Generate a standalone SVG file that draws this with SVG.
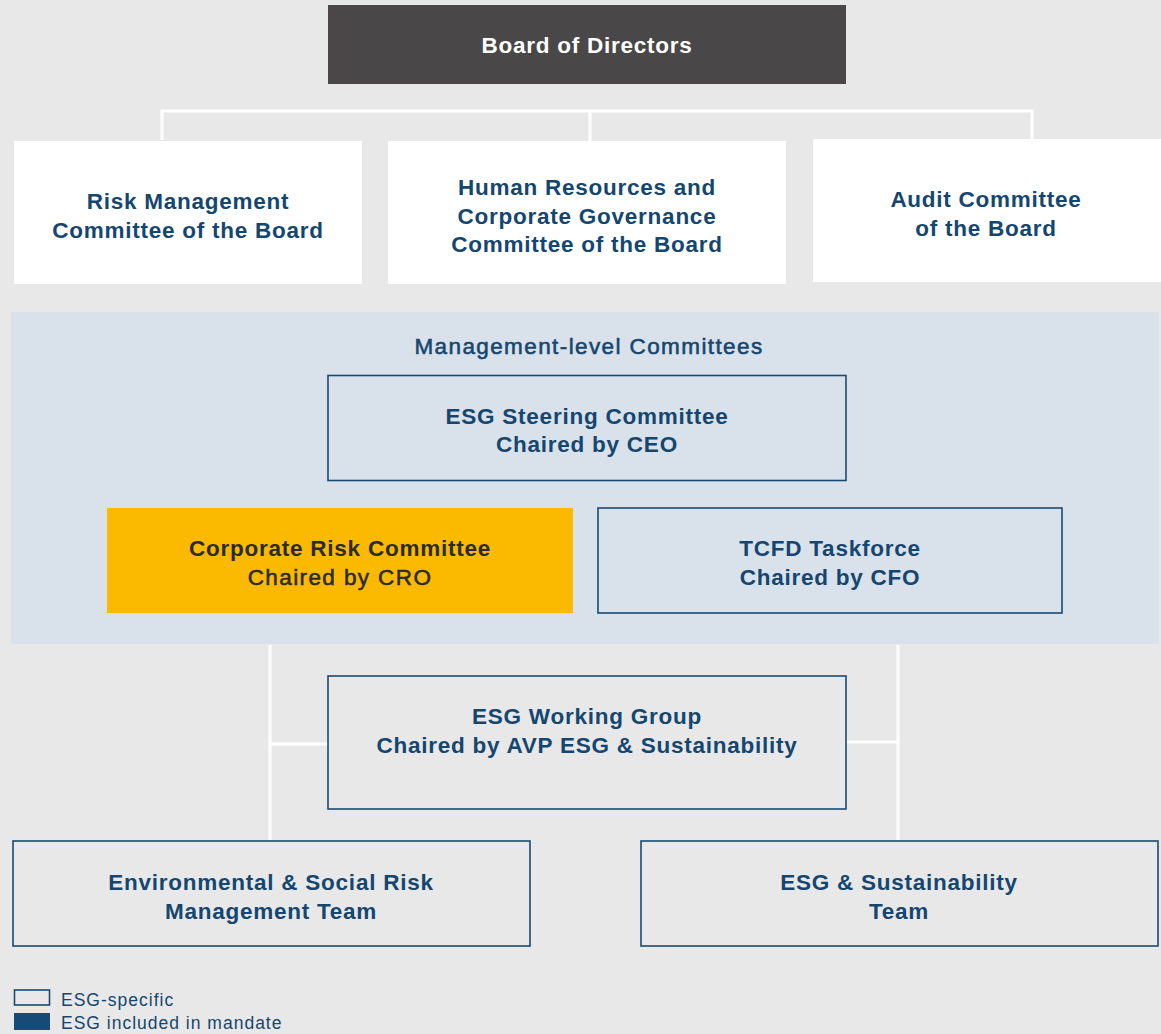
<svg xmlns="http://www.w3.org/2000/svg" width="1161" height="1034" viewBox="0 0 1161 1034">
  <style>
    text { font-family: "Liberation Sans", Arial, sans-serif; }
    .t { font-size: 22.5px; font-weight: bold; fill: #14466f; text-anchor: middle; letter-spacing: 0.75px; }
    .m { font-weight: normal; stroke: #14466f; stroke-width: 0.55px; letter-spacing: 1.4px; }
    .tw { fill: #ffffff; }
    .td { fill: #2b2b2b; }
    .md { stroke: #2b2b2b; }
    .card { fill: #ffffff; }
    .esg { fill: none; stroke: #174a75; stroke-width: 1.6; }
    .wire { stroke: #ffffff; stroke-width: 3; fill: none; }
    .leg { font-size: 17.5px; fill: #14466f; letter-spacing: 1px; }
  </style>

  <rect x="0" y="0" width="1161" height="1034" fill="#e8e8e8"/>

  <!-- management panel -->
  <rect x="11" y="312" width="1148" height="332" fill="#d9e1ea"/>
  <text x="589" y="354" class="t m">Management-level Committees</text>

  <g id="connectors">
    <path class="wire" d="M162 140 V111 H1032 V139 M590 111 V141"/>
    <path class="wire" d="M270 645 V840 M270 744 H328"/>
    <path class="wire" d="M898 645 V840 M846 742 H898"/>
  </g>

  <g id="board">
    <rect x="328" y="5" width="518" height="79" fill="#4a4748"/>
    <text x="587" y="53" class="t tw">Board of Directors</text>
  </g>

  <g id="risk-board">
    <rect class="card" x="14" y="141" width="348" height="143"/>
    <text x="188" y="209" class="t">Risk Management</text>
    <text x="188" y="238" class="t">Committee of the Board</text>
  </g>

  <g id="hr-board">
    <rect class="card" x="388" y="141" width="398" height="143"/>
    <text x="587" y="195" class="t">Human Resources and</text>
    <text x="587" y="224" class="t">Corporate Governance</text>
    <text x="587" y="252" class="t">Committee of the Board</text>
  </g>

  <g id="audit-board">
    <rect class="card" x="813" y="139" width="348" height="143"/>
    <text x="986" y="207" class="t">Audit Committee</text>
    <text x="986" y="236" class="t">of the Board</text>
  </g>

  <g id="esg-steering">
    <rect class="esg" x="328" y="375.5" width="518" height="105"/>
    <text x="587" y="424" class="t">ESG Steering Committee</text>
    <text x="587" y="452" class="t">Chaired by CEO</text>
  </g>

  <g id="corporate-risk">
    <rect x="107" y="508" width="466" height="105" fill="#fbb900"/>
    <text x="340" y="556" class="t td">Corporate Risk Committee</text>
    <text x="340" y="585" class="t m td md">Chaired by CRO</text>
  </g>

  <g id="tcfd">
    <rect class="esg" x="598" y="508" width="464" height="105"/>
    <text x="830" y="556" class="t">TCFD Taskforce</text>
    <text x="830" y="585" class="t">Chaired by CFO</text>
  </g>

  <g id="esg-working">
    <rect class="esg" x="328" y="676" width="518" height="133"/>
    <text x="587" y="724" class="t">ESG Working Group</text>
    <text x="587" y="753" class="t">Chaired by AVP ESG &amp; Sustainability</text>
  </g>

  <g id="env-social">
    <rect class="esg" x="13" y="841" width="517" height="105"/>
    <text x="271" y="890" class="t">Environmental &amp; Social Risk</text>
    <text x="271" y="919" class="t">Management Team</text>
  </g>

  <g id="esg-sust">
    <rect class="esg" x="641" y="841" width="517" height="105"/>
    <text x="899" y="890" class="t">ESG &amp; Sustainability</text>
    <text x="899" y="919" class="t">Team</text>
  </g>

  <g id="legend">
    <rect class="esg" x="14.5" y="990" width="35" height="15"/>
    <rect x="14" y="1013" width="36" height="17" fill="#174a75"/>
    <text x="61" y="1006" class="leg">ESG-specific</text>
    <text x="61" y="1029" class="leg">ESG included in mandate</text>
  </g>
</svg>
